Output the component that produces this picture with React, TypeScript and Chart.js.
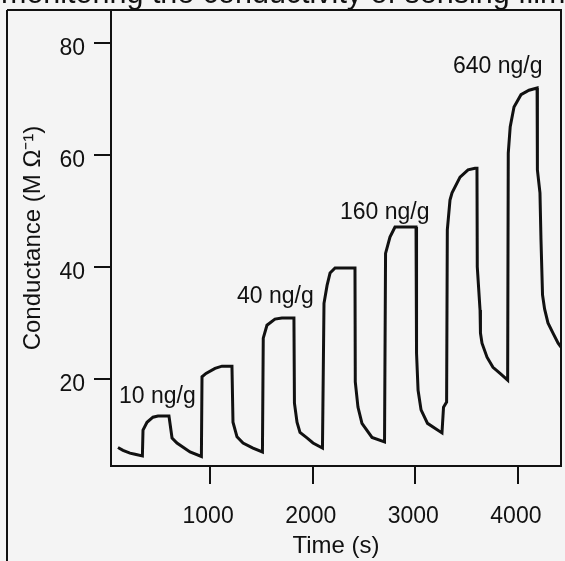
import { useEffect, useRef } from "react";
import { Chart, registerables } from "chart.js";

Chart.register(...registerables);

// Time (s)
const timeS = [
  102, 151, 219, 268, 340,
  346, 385, 443, 492, 599,
  629, 677, 804, 915,
  921, 960, 1048, 1116, 1213,
  1223, 1262, 1321, 1418, 1510,
  1518, 1554, 1632, 1700, 1817,
  1822, 1847, 1876, 1944, 2003, 2095,
  2110, 2140, 2169, 2218, 2412,
  2415, 2441, 2480, 2578, 2700,
  2710, 2753, 2802, 3007,
  3012, 3027, 3056, 3119, 3260, 3275, 3305,
  3312, 3338, 3358, 3436, 3514, 3582, 3601,
  3604, 3631, 3635, 3650, 3699, 3757, 3826, 3900,
  3906, 3925, 3962, 4030, 4108, 4187,
  4190, 4215, 4225, 4240, 4260, 4293, 4342, 4392, 4420,
];

// Conductance (M Ω^-1)
const conductance = [
  7.8, 7.3, 6.8, 6.6, 6.3,
  10.9, 12.3, 13.2, 13.4, 13.4,
  9.5, 8.6, 7.0, 6.2,
  20.4, 21.0, 21.9, 22.3, 22.3,
  12.3, 9.7, 8.6, 7.7, 7.0,
  27.3, 29.6, 30.7, 30.9, 30.9,
  15.7, 12.3, 10.5, 9.5, 8.6, 7.7,
  33.5, 36.7, 38.9, 39.8, 39.8,
  19.5, 15.0, 12.1, 9.6, 8.8,
  42.4, 45.3, 47.1, 47.1,
  24.6, 18.0, 14.5, 12.1, 10.4, 15.0, 15.9,
  46.6, 51.9, 53.2, 56.0, 57.3, 57.6, 57.6,
  40.0, 32.3, 28.2, 26.4, 23.9, 22.1, 21.0, 19.8,
  60.3, 65.0, 68.5, 70.7, 71.5, 71.9,
  57.3, 53.2, 44.8, 35.0, 32.5, 30.0, 28.2, 26.4, 25.7,
];

const xTickValues = [1000, 2000, 3000, 4000];
const yTickValues = [20, 40, 60, 80];

const annotationLabels = ["10 ng/g", "40 ng/g", "160 ng/g", "640 ng/g"];
const annotationTimes = [112, 1262, 2266, 3367];
const annotationValues = [15.7, 33.5, 48.5, 74.6];

const headerText = "monitoring the conductivity of sensing film";

const FONT = '"Liberation Sans", Arial, Helvetica, sans-serif';
const INK = "#111111";

const framePlugin = {
  id: "frame",
  beforeDraw(chart: any) {
    const ctx = chart.ctx;
    ctx.save();
    ctx.fillStyle = "#f4f4f4";
    ctx.fillRect(0, 0, chart.width, chart.height);
    ctx.restore();
  },
  afterDraw(chart: any) {
    const ctx = chart.ctx;
    const a = chart.chartArea;
    ctx.save();
    ctx.strokeStyle = INK;
    ctx.lineWidth = 2;
    // plot box top & right
    ctx.beginPath();
    ctx.moveTo(7, a.top);
    ctx.lineTo(a.right, a.top);
    ctx.lineTo(a.right, a.bottom);
    ctx.stroke();
    // outer frame left
    ctx.beginPath();
    ctx.moveTo(7, a.top);
    ctx.lineTo(7, chart.height);
    ctx.stroke();

    // cropped header text
    ctx.fillStyle = INK;
    ctx.font = `30.5px ${FONT}`;
    ctx.textBaseline = "alphabetic";
    ctx.textAlign = "left";
    ctx.fillText(headerText, 1, 3);

    // annotations
    const xs = chart.scales.x;
    const ys = chart.scales.y;
    ctx.font = `23px ${FONT}`;
    annotationLabels.forEach((label, i) => {
      ctx.fillText(label, xs.getPixelForValue(annotationTimes[i]), ys.getPixelForValue(annotationValues[i]));
    });
    ctx.restore();
  },
};

export default function App() {
  const ref = useRef<HTMLCanvasElement | null>(null);
  useEffect(() => {
    if (!ref.current) return;
    const chart = new Chart(ref.current, {
      type: "line",
      data: {
        datasets: [
          {
            data: timeS.map((t, i) => ({ x: t, y: conductance[i] })),
            borderColor: INK,
            borderWidth: 3,
            pointRadius: 0,
            tension: 0,
            fill: false,
          },
        ],
      },
      options: {
        animation: false,
        responsive: false,
        devicePixelRatio: 1,
        layout: { padding: { left: 0, top: 10, right: 4, bottom: 0 } },
        plugins: {
          legend: { display: false },
          tooltip: { enabled: false },
          title: { display: false },
        },
        scales: {
          x: {
            type: "linear",
            min: 34,
            max: 4420,
            afterFit: (s: any) => {
              s.height = 95;
              s.paddingLeft = 0;
              s.paddingRight = 0;
            },
            afterBuildTicks: (s: any) => {
              s.ticks = xTickValues.map((v) => ({ value: v }));
            },
            grid: {
              drawOnChartArea: false,
              drawTicks: true,
              tickLength: 18,
              color: INK,
              lineWidth: 2,
            },
            border: { display: true, color: INK, width: 2 },
            ticks: {
              color: INK,
              font: { family: FONT, size: 23 },
              padding: 19,
              labelOffset: -2,
              maxRotation: 0,
              autoSkip: false,
              callback: (v: any) => String(v),
            },
            title: {
              display: true,
              text: "Time (s)",
              color: INK,
              font: { family: FONT, size: 24 },
              padding: { top: 0, bottom: 0 },
            },
          },
          y: {
            type: "linear",
            min: 4.5,
            max: 85.8,
            afterFit: (s: any) => {
              s.width = 111;
              s.paddingTop = 0;
              s.paddingBottom = 0;
            },
            afterBuildTicks: (s: any) => {
              s.ticks = yTickValues.map((v) => ({ value: v }));
            },
            grid: {
              drawOnChartArea: false,
              drawTicks: true,
              tickLength: 17,
              color: INK,
              lineWidth: 2,
            },
            border: { display: true, color: INK, width: 2 },
            ticks: {
              color: INK,
              font: { family: FONT, size: 23 },
              padding: 9,
              labelOffset: 6,
              autoSkip: false,
              callback: (v: any) => String(v),
            },
            title: {
              display: true,
              text: "Conductance (M Ω⁻¹)",
              color: INK,
              font: { family: FONT, size: 24 },
              padding: { top: 19, bottom: 0 },
            },
          },
        },
      },
      plugins: [framePlugin],
    });
    return () => chart.destroy();
  }, []);
  return (
    <canvas
      ref={ref}
      width={565}
      height={561}
      style={{ position: "absolute", left: 0, top: 0, width: 565, height: 561 }}
    />
  );
}
